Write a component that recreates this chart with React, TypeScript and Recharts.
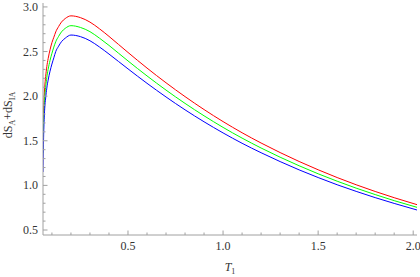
import { LineChart, Line, XAxis, YAxis, Label } from "recharts";

// T1 sample points and the three curves
const tValues = [
  0.053, 0.055, 0.058, 0.062, 0.067, 0.073, 0.08, 0.09, 0.1, 0.11, 0.12, 0.135, 0.15, 0.17, 0.2,
  0.25, 0.3, 0.35, 0.4, 0.45, 0.5, 0.6, 0.7, 0.8, 0.9, 1.0, 1.1, 1.2, 1.3, 1.4, 1.5, 1.6, 1.7, 1.8, 1.9, 2.02,
];
const redValues = [
  1.5, 1.75, 1.95, 2.1, 2.22, 2.33, 2.42, 2.52, 2.6, 2.66, 2.72, 2.78, 2.83, 2.87, 2.9,
  2.88, 2.83, 2.755, 2.67, 2.58, 2.49, 2.315, 2.15, 1.995, 1.85, 1.715, 1.59, 1.475, 1.368, 1.268, 1.175, 1.088, 1.007, 0.932, 0.862, 0.784,
];
const greenValues = [
  1.35, 1.6, 1.82, 1.98, 2.1, 2.21, 2.3, 2.4, 2.48, 2.55, 2.61, 2.67, 2.72, 2.76, 2.79,
  2.77, 2.723, 2.65, 2.569, 2.482, 2.395, 2.227, 2.068, 1.919, 1.78, 1.65, 1.53, 1.419, 1.316, 1.22, 1.13, 1.047, 0.969, 0.897, 0.829, 0.754,
];
const blueValues = [
  1.15, 1.42, 1.68, 1.86, 1.98, 2.09, 2.18, 2.28, 2.36, 2.43, 2.5, 2.56, 2.61, 2.65, 2.685,
  2.667, 2.621, 2.551, 2.472, 2.389, 2.306, 2.144, 1.991, 1.847, 1.713, 1.588, 1.472, 1.366, 1.267, 1.174, 1.088, 1.007, 0.933, 0.863, 0.798, 0.724,
];

const xTicks = [0.1, 0.2, 0.3, 0.4, 0.5, 0.6, 0.7, 0.8, 0.9, 1.0, 1.1, 1.2, 1.3, 1.4, 1.5, 1.6, 1.7, 1.8, 1.9, 2.0];
const xMajor = [0.5, 1.0, 1.5, 2.0];
const xLabels = ["0.5", "1.0", "1.5", "2.0"];
const yTicks = [0.5, 0.6, 0.7, 0.8, 0.9, 1.0, 1.1, 1.2, 1.3, 1.4, 1.5, 1.6, 1.7, 1.8, 1.9, 2.0, 2.1, 2.2, 2.3, 2.4, 2.5, 2.6, 2.7, 2.8, 2.9, 3.0];
const yMajor = [0.5, 1.0, 1.5, 2.0, 2.5, 3.0];
const yLabels = ["0.5", "1.0", "1.5", "2.0", "2.5", "3.0"];

const data = tValues.map((t, i) => ({
  t,
  red: redValues[i],
  green: greenValues[i],
  blue: blueValues[i],
}));

const FRAME = "#a0a0a0";
const TEXT = "#333";
const FONT = "Liberation Serif, DejaVu Serif, serif";

function labelFor(v: number, majors: number[], labels: string[]) {
  const i = majors.findIndex((m) => Math.abs(m - v) < 1e-6);
  return i >= 0 ? labels[i] : null;
}

function makeTick(side: "bottom" | "top" | "left" | "right") {
  return function Tick(props: any) {
    const { x, y, payload } = props;
    const horizontal = side === "bottom" || side === "top";
    const label = horizontal
      ? labelFor(payload.value, xMajor, xLabels)
      : labelFor(payload.value, yMajor, yLabels);
    const len = label ? 4.5 : 2.5;
    let line;
    if (side === "bottom") line = <line x1={x} x2={x} y1={y} y2={y - len} stroke={FRAME} />;
    else if (side === "top") line = <line x1={x} x2={x} y1={y} y2={y + len} stroke={FRAME} />;
    else if (side === "left") line = <line x1={x} x2={x + len} y1={y} y2={y} stroke={FRAME} />;
    else line = <line x1={x} x2={x - len} y1={y} y2={y} stroke={FRAME} />;
    return (
      <g>
        {line}
        {label && side === "bottom" && (
          <text x={x} y={y + 15} textAnchor="middle" fontSize={12} style={{ fontFamily: FONT }} fill={TEXT}>
            {label}
          </text>
        )}
        {label && side === "left" && (
          <text x={x - 5} y={y + 4} textAnchor="end" fontSize={12} style={{ fontFamily: FONT }} fill={TEXT}>
            {label}
          </text>
        )}
      </g>
    );
  };
}

const BottomTick = makeTick("bottom");
const TopTick = makeTick("top");
const LeftTick = makeTick("left");
const RightTick = makeTick("right");

export default function App() {
  return (
    <div style={{ width: 420, height: 277 }}>
      <style>{"body{margin:0}"}</style>
      <LineChart width={420} height={277} data={data} margin={{ top: 3, right: 3, left: 0, bottom: 0 }}>
        <XAxis
          dataKey="t"
          type="number"
          domain={[0.053, 2.02]}
          allowDataOverflow
          ticks={xTicks}
          interval={0}
          tickSize={0}
          tickMargin={0}
          tickLine={false}
          tick={<BottomTick />}
          height={42}
          axisLine={{ stroke: FRAME }}
        >
          <Label
            content={() => (
              <text x={230} y={271} textAnchor="middle" fontSize={12} style={{ fontFamily: FONT }} fill={TEXT}>
                <tspan fontStyle="italic">T</tspan>
                <tspan fontSize={8} dy={3}>1</tspan>
              </text>
            )}
          />
        </XAxis>
        <XAxis
          xAxisId="top"
          orientation="top"
          dataKey="t"
          type="number"
          domain={[0.053, 2.02]}
          allowDataOverflow
          ticks={xTicks}
          interval={0}
          tickSize={0}
          tickMargin={0}
          tickLine={false}
          tick={<TopTick />}
          height={0}
          axisLine={{ stroke: FRAME }}
        />
        <YAxis
          type="number"
          domain={[0.444, 3.044]}
          allowDataOverflow
          ticks={yTicks}
          interval={0}
          tickSize={0}
          tickMargin={0}
          tickLine={false}
          tick={<LeftTick />}
          width={43}
          axisLine={{ stroke: FRAME }}
        >
          <Label
            content={() => (
              <text
                x={0}
                y={0}
                transform="translate(12,115) rotate(-90)"
                textAnchor="middle"
                fontSize={12}
                style={{ fontFamily: FONT }}
                fill={TEXT}
              >
                dS
                <tspan fontSize={8} dy={3}>A</tspan>
                <tspan dy={-3}>+dS</tspan>
                <tspan fontSize={8} dy={3}>IA</tspan>
              </text>
            )}
          />
        </YAxis>
        <YAxis
          yAxisId="right"
          orientation="right"
          type="number"
          domain={[0.444, 3.044]}
          allowDataOverflow
          ticks={yTicks}
          interval={0}
          tickSize={0}
          tickMargin={0}
          tickLine={false}
          tick={<RightTick />}
          width={0}
          axisLine={{ stroke: FRAME }}
        />
        <Line type="monotone" dataKey="red" stroke="#ff0000" strokeWidth={1} dot={false} isAnimationActive={false} />
        <Line type="monotone" dataKey="green" stroke="#00ff00" strokeWidth={1} dot={false} isAnimationActive={false} />
        <Line type="monotone" dataKey="blue" stroke="#0000ff" strokeWidth={1} dot={false} isAnimationActive={false} />
      </LineChart>
    </div>
  );
}
